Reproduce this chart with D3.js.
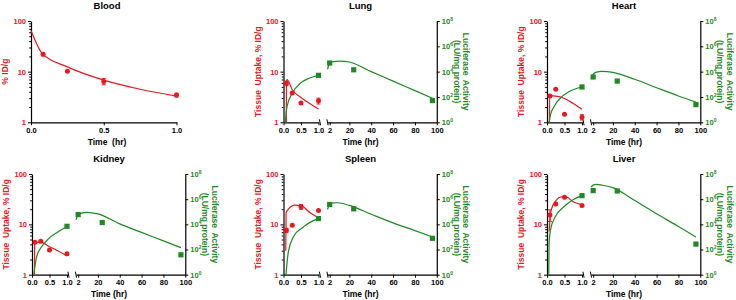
<!DOCTYPE html>
<html>
<head>
<meta charset="utf-8">
<script src="https://cdn.jsdelivr.net/npm/d3@7"></script>
<style>
body { margin: 0; background: #fff; }
svg text { font-family: "Liberation Sans", Arial, sans-serif; font-weight: bold; }
</style>
</head>
<body>
<svg id="chart" width="736" height="300"></svg>
<script>
// ---- data ----
// points: [time (hr), mean, error]; fits: [time (hr), value]
// green values are luciferase activity (LU/mg protein)
var leftTicks = [1, 10, 100];
var leftMinor = [2, 3, 4, 5, 6, 7, 8, 9, 20, 30, 40, 50, 60, 70, 80, 90];
var rightTicks = [1, 1e2, 1e4, 1e6, 1e8];
var earlyTicks = [0, 0.5, 1];
var lateTicks = [2, 20, 40, 60, 80, 100];

var bloodRed = [[0.083, 22, 1.5], [0.25, 10.2, 0], [0.5, 6.4, 0.9], [1, 3.45, 0.3]];
var bloodRedFit = [[0, 65], [0.078, 22.7], [0.25, 12.4], [0.5, 6.8], [0.75, 4.5], [1, 3.3]];

var lungRed = [[0.083, 5.9, 0.6], [0.25, 3.8, 0], [0.5, 2.4, 0], [1, 2.65, 0.35]];
var lungRedFit = [[0.08, 1], [0.085, 6.4], [0.1, 7.0], [0.25, 4.4], [0.5, 3.1], [0.75, 2.35], [1, 1.83]];
var lungGreen = [[1, 5.1e3], [2, 4.8e4], [24, 1.4e4], [96, 52]];
var lungGreenFit1 = [[0.05, 1], [0.1, 17], [0.25, 195], [0.5, 1350], [0.75, 3160], [1, 5130]];
var lungGreenFit2 = [[0, 1.55e4], [2, 4.6e4], [5, 6.2e4], [12, 6.9e4], [20, 5.8e4], [40, 1.0e4], [60, 1.8e3], [80, 316], [96, 79]];

var heartRed = [[0.083, 3.3, 0], [0.25, 4.5, 0], [0.5, 1.44, 0], [1, 1.26, 0.15]];
var heartRedFit = [[0.07, 1], [0.075, 3.35], [0.25, 3.3], [0.5, 2.95], [0.75, 2.35], [1, 1.8]];
var heartGreen = [[1, 616], [2, 3.8e3], [24, 1.8e3], [96, 25]];
var heartGreenFit1 = [[0.06, 1], [0.1, 4], [0.2, 17], [0.4, 93], [0.6, 234], [0.8, 427], [1, 617]];
var heartGreenFit2 = [[0, 2.8e3], [2, 6.3e3], [5, 9.3e3], [10, 1.05e4], [20, 8.9e3], [40, 2.5e3], [60, 537], [80, 120], [96, 40]];

var kidneyRed = [[0.083, 4.4, 0], [0.25, 4.6, 0], [0.5, 3.1, 0], [1, 2.6, 0]];
var kidneyRedFit = [[0.07, 1], [0.075, 4.3], [0.25, 4.45], [0.5, 3.6], [0.75, 2.95], [1, 2.35]];
var kidneyGreen = [[1, 7.0e3], [2, 6.0e4], [24, 1.4e4], [96, 38]];
var kidneyGreenFit1 = [[0.05, 1], [0.13, 25], [0.28, 174], [0.47, 708], [0.72, 2.3e3], [1, 6.8e3]];
var kidneyGreenFit2 = [[0, 2.3e4], [2, 5.6e4], [5, 7.9e4], [10, 9.1e4], [20, 6.8e4], [40, 1.1e4], [60, 2.3e3], [80, 490], [96, 141]];

var spleenRed = [[0.083, 7.6, 0.7], [0.25, 9.6, 0], [0.5, 22.4, 2.5], [1, 18.9, 0]];
var spleenRedFit = [[0.065, 3], [0.075, 17], [0.14, 20], [0.33, 24], [0.5, 23.5], [0.76, 17], [1, 13.5]];
var spleenGreen = [[1, 2.9e4], [2, 3.8e5], [24, 1.7e5], [96, 780]];
var spleenGreenFit1 = [[0.07, 1], [0.14, 72], [0.29, 1.1e3], [0.53, 5.2e3], [0.77, 1.5e4], [1, 3.0e4]];
var spleenGreenFit2 = [[0, 1.5e5], [2, 4.0e5], [5, 5.0e5], [9, 5.2e5], [20, 3.2e5], [40, 6.3e4], [60, 1.3e4], [80, 3.2e3], [96, 1.0e3]];

var liverRed = [[0.083, 15.4, 4], [0.25, 25.5, 0], [0.5, 34.6, 0], [1, 23.6, 0]];
var liverRedFit = [[0.06, 7.2], [0.12, 19.4], [0.26, 30], [0.41, 35], [0.55, 35], [0.75, 28], [1, 24.3]];
var liverGreen = [[1, 1.9e6], [2, 4.8e6], [24, 4.5e6], [96, 270]];
var liverGreenFit1 = [[0.05, 1], [0.06, 316], [0.1, 3.6e3], [0.24, 4.2e4], [0.49, 2.6e5], [0.73, 8.7e5], [1, 1.9e6]];
var liverGreenFit2 = [[0, 8.9e6], [2, 1.3e7], [5, 1.5e7], [10, 1.3e7], [20, 8.3e6], [40, 7.8e5], [60, 6.9e4], [80, 6.8e3], [96, 1.0e3]];

var RED = "#e5191e";
var GREEN = "#1f8a24";

var panels = [
    {title: "Blood", left: 31, top: 21, bottom: 122.3, dual: false,
     red: bloodRed, redFit: bloodRedFit},
    {title: "Lung", left: 283.5, top: 21, bottom: 122.3, dual: true,
     red: lungRed, redFit: lungRedFit, green: lungGreen, greenFit1: lungGreenFit1, greenFit2: lungGreenFit2},
    {title: "Heart", left: 547, top: 21, bottom: 122.3, dual: true,
     red: heartRed, redFit: heartRedFit, green: heartGreen, greenFit1: heartGreenFit1, greenFit2: heartGreenFit2},
    {title: "Kidney", left: 32, top: 174, bottom: 274.7, dual: true,
     red: kidneyRed, redFit: kidneyRedFit, green: kidneyGreen, greenFit1: kidneyGreenFit1, greenFit2: kidneyGreenFit2},
    {title: "Spleen", left: 283.5, top: 174, bottom: 274.7, dual: true,
     red: spleenRed, redFit: spleenRedFit, green: spleenGreen, greenFit1: spleenGreenFit1, greenFit2: spleenGreenFit2},
    {title: "Liver", left: 547, top: 174, bottom: 274.7, dual: true,
     red: liverRed, redFit: liverRedFit, green: liverGreen, greenFit1: liverGreenFit1, greenFit2: liverGreenFit2}
];

var svg = d3.select("#chart");

function styleAxis(sel, color, size) {
    sel.attr("font-family", null).attr("font-size", null);
    sel.select(".domain").attr("stroke", "#000").attr("stroke-width", 1.2);
    sel.selectAll(".tick line").attr("stroke", "#000").attr("stroke-width", 1);
    sel.selectAll(".tick text").attr("fill", color).style("font-size", size + "px");
}

function drawPanel(p) {
    var g = svg.append("g");
    var right = p.left + 153.3;
    var midY = (p.top + p.bottom) / 2;
    var yL = d3.scaleLog().domain([1, 100]).range([p.bottom, p.top]);
    var yR = d3.scaleLog().domain([1, 1e8]).range([p.bottom, p.top]);
    var x1 = d3.scaleLinear().domain([0, 1]).range([p.left, p.left + (p.dual ? 35 : 145.5)]);
    var x2 = d3.scaleLinear().domain([0, 100]).range([p.left + 44, right]);
    var xOf = function (t) { return t <= 1 ? x1(t) : x2(t); };
    var midX = p.dual ? p.left + 77 : p.left + 76;

    // title
    g.append("text").attr("x", midX).attr("y", p.top - 12.3)
        .attr("text-anchor", "middle").style("font-size", "9.5px").attr("fill", "#000")
        .text(p.title);

    // left axis
    g.append("g").attr("transform", "translate(" + p.left + ",0)")
        .call(d3.axisLeft(yL).tickValues(leftMinor).tickSize(1.8).tickSizeOuter(0).tickFormat(""))
        .call(function (s) { s.select(".domain").remove(); s.selectAll(".tick line").attr("stroke", "#000"); });
    g.append("g").attr("transform", "translate(" + p.left + ",0)")
        .call(d3.axisLeft(yL).tickValues(leftTicks).tickSize(3).tickSizeOuter(0)
            .tickPadding(2).tickFormat(d3.format("d")))
        .call(styleAxis, RED, 7.5);

    g.append("text")
        .attr("transform", "translate(" + (p.left - 25.5) + "," + midY + ") rotate(-90)")
        .attr("text-anchor", "middle").attr("dy", "0.35em")
        .style("font-size", "8.5px").style("white-space", "pre").attr("fill", RED)
        .text(p.dual ? "Tissue  Uptake, % ID/g" : "% ID/g");

    // bottom axis, early segment
    g.append("g").attr("transform", "translate(0," + p.bottom + ")")
        .call(d3.axisBottom(x1).tickValues(earlyTicks).tickSize(3).tickSizeOuter(0)
            .tickPadding(2).tickFormat(d3.format(".1f")))
        .call(styleAxis, "#000", 7.5);

    g.append("text").attr("x", midX).attr("y", p.bottom + 22.5)
        .attr("text-anchor", "middle").style("font-size", "8.5px").style("white-space", "pre")
        .attr("fill", "#000")
        .text(p.dual ? "Time (hr)" : "Time  (hr)");

    if (p.dual) {
        // bottom axis, late segment
        g.append("g").attr("transform", "translate(0," + p.bottom + ")")
            .call(d3.axisBottom(x2).tickValues(lateTicks).tickSize(3).tickSizeOuter(0)
                .tickPadding(2).tickFormat(d3.format("d")))
            .call(styleAxis, "#000", 7.5);
        // break marks
        [x1.range()[1] + 1.5, x2.range()[0]].forEach(function (bx) {
            g.append("line").attr("x1", bx - 0.6).attr("x2", bx + 0.6)
                .attr("y1", p.bottom - 3).attr("y2", p.bottom + 3)
                .attr("stroke", "#000").attr("stroke-width", 1);
        });

        // right axis
        var ra = g.append("g").attr("transform", "translate(" + right + ",0)")
            .call(d3.axisRight(yR).tickValues(rightTicks).tickSize(3).tickSizeOuter(0)
                .tickPadding(2).tickFormat(function () { return "10"; }))
            .call(styleAxis, GREEN, 7.5);
        ra.selectAll(".tick text").each(function (d) {
            d3.select(this).append("tspan").attr("dy", "-3").style("font-size", "5px")
                .text(Math.round(Math.log10(d)));
        });

        var rl = g.append("text")
            .attr("transform", "translate(" + (right + 25) + "," + midY + ") rotate(90)")
            .attr("text-anchor", "middle").style("font-size", "8.5px")
            .style("white-space", "pre").attr("fill", GREEN);
        rl.append("tspan").attr("x", 0).attr("dy", "-0.2em").text("Luciferase  Activity");
        rl.append("tspan").attr("x", 0).attr("dy", "1.15em").text("(LU/mg protein)");
    }

    // fits
    var lineL = function (xs) {
        return d3.line().x(function (d) { return xs(d[0]); })
            .y(function (d) { return yL(d[1]); }).curve(d3.curveMonotoneX);
    };
    var lineR = function (xs) {
        return d3.line().x(function (d) { return xs(d[0]); })
            .y(function (d) { return yR(d[1]); }).curve(d3.curveMonotoneX);
    };

    g.append("path").datum(p.redFit).attr("d", lineL(x1))
        .attr("fill", "none").attr("stroke", RED).attr("stroke-width", 1.2);

    if (p.dual) {
        g.append("path").datum(p.greenFit1).attr("d", lineR(x1))
            .attr("fill", "none").attr("stroke", GREEN).attr("stroke-width", 1.2);
        g.append("path").datum(p.greenFit2).attr("d", lineR(x2))
            .attr("fill", "none").attr("stroke", GREEN).attr("stroke-width", 1.2);
    }

    // red points with error bars
    var rp = g.selectAll(".rp").data(p.red).enter().append("g");
    rp.filter(function (d) { return d[2] > 0; }).each(function (d) {
        var s = d3.select(this), x = x1(d[0]);
        var y0 = yL(d[1] - d[2]), y1 = yL(d[1] + d[2]);
        s.append("line").attr("x1", x).attr("x2", x).attr("y1", y0).attr("y2", y1)
            .attr("stroke", RED).attr("stroke-width", 1);
        [y0, y1].forEach(function (yy) {
            s.append("line").attr("x1", x - 2).attr("x2", x + 2).attr("y1", yy).attr("y2", yy)
                .attr("stroke", RED).attr("stroke-width", 1);
        });
    });
    rp.append("circle").attr("cx", function (d) { return x1(d[0]); })
        .attr("cy", function (d) { return yL(d[1]); })
        .attr("r", 2.5).attr("fill", RED);

    if (p.dual) {
        g.selectAll(".gp").data(p.green).enter().append("rect")
            .attr("x", function (d) { return xOf(d[0]) - 2.6; })
            .attr("y", function (d) { return yR(d[1]) - 2.6; })
            .attr("width", 5.2).attr("height", 5.2).attr("fill", GREEN);
    }
}

panels.forEach(drawPanel);
</script>
</body>
</html>
